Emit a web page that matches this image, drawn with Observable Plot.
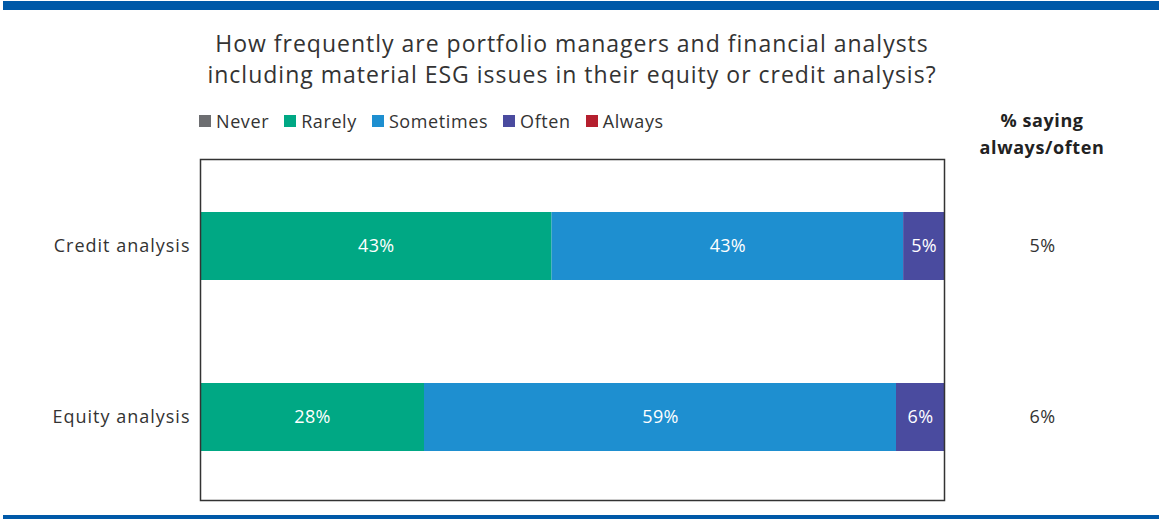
<!DOCTYPE html>
<html>
<head>
<meta charset="utf-8">
<script src="https://cdn.jsdelivr.net/npm/d3@7"></script>
<script src="https://cdn.jsdelivr.net/npm/@observablehq/plot@0.6"></script>
<style>
  html, body { margin: 0; padding: 0; background: #fff; }
  body { width: 1159px; height: 519px; position: relative; overflow: hidden; font-family: "Open Sans", Roboto, sans-serif; color: #333; }
  .bar-top { position: absolute; left: 3px; right: 0; top: 1px; height: 9px; background: #0059a8; }
  .bar-bottom { position: absolute; left: 3px; right: 0; top: 515px; height: 4px; background: #0059a8; }
  #title { position: absolute; left: 100px; width: 944px; top: 28px; text-align: center; font-size: 23px; line-height: 31px; color: #333; letter-spacing: 1px; }
  #legend { position: absolute; left: 199px; top: 109px; display: flex; align-items: center; font-size: 18px; color: #333; letter-spacing: 0.6px; }
  #legend .item { display: flex; align-items: center; margin-right: 15px; }
  #legend .sw { width: 12px; height: 12px; margin-right: 5px; }
  #rhead { position: absolute; left: 942px; width: 200px; top: 107px; text-align: center; font-size: 18px; font-weight: bold; line-height: 27px; color: #222; letter-spacing: 0.6px; }
  #chart { position: absolute; left: 0; top: 100px; }
  #chart svg g[aria-label="y-axis tick label"] text { letter-spacing: 1px; }
</style>
</head>
<body>
<div class="bar-top"></div>
<div id="title">How frequently are portfolio managers and financial analysts<br>including material ESG issues in their equity or credit analysis?</div>
<div id="legend"></div>
<div id="rhead">% saying<br>always/often</div>
<div id="chart"></div>
<div class="bar-bottom"></div>
<script>
const categories = ["Credit analysis", "Equity analysis"];
const responses = ["Never", "Rarely", "Sometimes", "Often", "Always"];
const colors = ["#6d6e71", "#00a884", "#1e8fd0", "#4a4b9f", "#b51f2e"];
const creditValues = [0, 43, 43, 5, 0];
const equityValues = [0, 28, 59, 6, 0];
const alwaysOften = [5, 6];

const seriesByCategory = [creditValues, equityValues];
const data = [];
categories.forEach((c, i) => {
  responses.forEach((r, j) => {
    data.push({category: c, response: r, value: seriesByCategory[i][j]});
  });
});
const summary = categories.map((c, i) => ({category: c, value: alwaysOften[i]}));

const legend = document.getElementById("legend");
responses.forEach((r, j) => {
  const it = document.createElement("div");
  it.className = "item";
  const sw = document.createElement("div");
  sw.className = "sw";
  sw.style.background = colors[j];
  const t = document.createElement("span");
  t.textContent = r;
  it.appendChild(sw); it.appendChild(t);
  legend.appendChild(it);
});

const stackOpts = {offset: "normalize", order: responses};

const plot = Plot.plot({
  width: 1159,
  height: 419,
  marginLeft: 200,
  marginRight: 215,
  marginTop: 59,
  marginBottom: 19,
  style: {fontFamily: "'Open Sans', Roboto, sans-serif", fontSize: "18px", color: "#333", background: "transparent", letterSpacing: "0.3px"},
  x: {axis: null, domain: [0, 1]},
  y: {domain: categories, paddingInner: 0.605, paddingOuter: 0.294, align: 0.515, label: null},
  color: {domain: responses, range: colors},
  marks: [
    Plot.barX(data.filter(d => d.value > 0), Plot.stackX({...stackOpts, x: "value", y: "category", fill: "response"})),
    Plot.text(data.filter(d => d.value > 0), Plot.stackX({...stackOpts, x: "value", y: "category", z: "response", text: d => d.value + "%", fill: "white", fontSize: 18})),
    Plot.text(summary, {y: "category", text: d => d.value + "%", frameAnchor: "right", dx: 98, textAnchor: "middle", fill: "#333", fontSize: 18}),
    Plot.axisY({tickSize: 0, tickPadding: 10, fontSize: 18, fill: "#333"}),
    Plot.frame({stroke: "#333", strokeWidth: 1.5})
  ]
});
document.getElementById("chart").appendChild(plot);
</script>
</body>
</html>
